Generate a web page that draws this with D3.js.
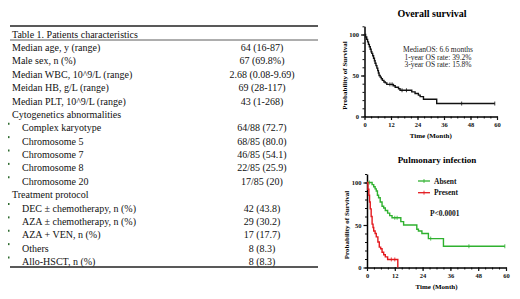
<!DOCTYPE html>
<html>
<head>
<meta charset="utf-8">
<script src="https://cdn.jsdelivr.net/npm/d3@7"></script>
<style>
  body { margin: 0; background: #fff; }
  svg { display: block; font-family: "Liberation Serif", "Times New Roman", serif; }
</style>
</head>
<body>
<svg id="chart" width="520" height="299"></svg>
<script>
// ---- table data ----
const tableTitle = "Table 1. Patients characteristics";

const generalLabels = ["Median age, y (range)", "Male sex, n (%)", "Median WBC, 10^9/L (range)",
  "Meidan HB, g/L (range)", "Median PLT, 10^9/L (range)"];
const generalValues = ["64 (16-87)", "67 (69.8%)", "2.68 (0.08-9.69)", "69 (28-117)", "43 (1-268)"];

const cytoHeader = "Cytogenetics abnormalities";
const cytoLabels = ["Complex karyotype", "Chromosome 5", "Chromosome 7", "Chromosome 8", "Chromosome 20"];
const cytoValues = ["64/88 (72.7)", "68/85 (80.0)", "46/85 (54.1)", "22/85 (25.9)", "17/85 (20)"];

const treatHeader = "Treatment protocol";
const treatLabels = ["DEC \u00b1 chemotherapy, n (%)", "AZA \u00b1 chemotherapy, n (%)", "AZA + VEN, n (%)",
  "Others", "Allo-HSCT, n (%)"];
const treatValues = ["42 (43.8)", "29 (30.2)", "17 (17.7)", "8 (8.3)", "8 (8.3)"];

// ---- survival data (months, % surviving after each step) ----
const osTime = [0, 0.5, 1, 1.4, 1.8, 2.2, 2.6, 3.0, 3.3, 3.7, 4.1, 4.5, 4.8, 5.2, 5.6, 6.0, 6.3, 6.6,
  7.1, 7.6, 8.1, 8.8, 9.4, 10.1, 13.1, 13.9, 15.4, 16.1, 21.4, 22.9, 24.4, 25.2, 26.7, 32.7];
const osSurv = [100, 97, 94, 91, 88, 85, 82, 79, 77, 74, 71, 68, 65, 62, 59, 56, 53, 50,
  48, 46, 44, 42, 41, 39.2, 37.5, 35.7, 33.9, 32, 30, 28, 26.1, 24.2, 21, 15.8];
const osEnd = 59;
const osCensor = [11.5, 12.5, 17, 19, 44, 59];
const osNotes = ["MedianOS: 6.6 months", "1-year OS rate: 39.2%", "3-year OS rate: 15.8%"];

const absentTime = [0, 2.2, 2.9, 3.5, 4.0, 4.5, 5.0, 5.7, 6.5, 7.2, 7.9, 8.9, 9.8, 10.8, 14.6, 15.8,
  21.5, 22.2, 23.7, 26.5, 33];
const absentSurv = [100, 97.5, 95, 92.5, 90, 85, 82, 77, 72, 70, 67, 64, 61, 58.5, 54, 50,
  45, 43, 40, 34, 25];
const absentEnd = 59.5;
const absentCensor = [1, 12, 13, 27.5, 44, 59.5];

const presentTime = [0, 0.4, 0.8, 1.1, 1.4, 1.8, 2.2, 2.6, 2.9, 3.5, 4.0, 4.7, 5.3, 5.9, 6.5, 7.2, 7.9, 8.9, 13.3];
const presentSurv = [100, 92, 85, 77, 69, 60, 51, 47, 43, 40, 36, 30, 24, 22, 18, 15, 12.5, 9.5, 0];
const presentEnd = 13.3;
const presentCensor = [10.5, 12];

const groupNames = ["Absent", "Present"];
const pValueText = "P<0.0001";
const xTicks = [0, 12, 24, 36, 48, 60];
const yTicks = [0, 50, 100];

const svg = d3.select("#chart");
svg.append("rect").attr("width", 520).attr("height", 299).attr("fill", "#fff");

/** TABLE */
const rows = [];
generalLabels.forEach((d, i) => rows.push({ label: d, value: generalValues[i], sub: false }));
rows.push({ label: cytoHeader, value: "", sub: false });
cytoLabels.forEach((d, i) => rows.push({ label: d, value: cytoValues[i], sub: true }));
rows.push({ label: treatHeader, value: "", sub: false });
treatLabels.forEach((d, i) => rows.push({ label: d, value: treatValues[i], sub: true }));

const tableLeft = 10, tableRight = 318, valueX = 262;
const rowY = d3.scaleLinear().domain([0, rows.length - 1]).range([47.5, 261.5]);

const table = svg.append("g").style("font-size", "10px").attr("fill", "#111");

table.append("line").attr("x1", tableLeft).attr("x2", tableRight).attr("y1", 26).attr("y2", 26)
  .attr("stroke", "#222").attr("stroke-width", 1.3);
table.append("line").attr("x1", tableLeft).attr("x2", tableRight).attr("y1", 40).attr("y2", 40)
  .attr("stroke", "#333").attr("stroke-width", 0.8);
table.append("line").attr("x1", tableLeft).attr("x2", tableRight).attr("y1", 267).attr("y2", 267)
  .attr("stroke", "#222").attr("stroke-width", 1.3);

table.append("text").attr("x", 12).attr("y", 34).attr("dy", "0.35em").text(tableTitle);

const rowG = table.selectAll("g.row").data(rows).enter().append("g").attr("class", "row")
  .attr("transform", (d, i) => `translate(0,${rowY(i)})`);

rowG.append("text")
  .attr("x", d => d.sub ? 22 : 12)
  .attr("dy", "0.35em")
  .text(d => d.label);

rowG.append("text")
  .attr("x", valueX)
  .attr("dy", "0.35em")
  .attr("text-anchor", "middle")
  .text(d => d.value);

// small cell markers at the left of indented rows
rowG.filter(d => d.sub).append("rect")
  .attr("x", 8).attr("y", -5).attr("width", 1.5).attr("height", 2)
  .attr("fill", "#2f6b2f");

/** KAPLAN-MEIER PLOTS */
function stepValue(times, surv, t) {
  let v = surv[0];
  for (let i = 0; i < times.length; i++) if (times[i] <= t) v = surv[i];
  return v;
}

function drawPlot(opts) {
  const g = svg.append("g");
  const x = d3.scaleLinear().domain([0, 60]).range([opts.x0, opts.x1]);
  const perUnit = (opts.yBottom - opts.yTop) / 100;
  const y = d3.scaleLinear().domain([0, 110]).range([opts.yBottom, opts.yBottom - 110 * perUnit]);

  g.append("text").attr("x", opts.titleX).attr("y", opts.titleY).attr("text-anchor", "middle")
    .attr("dy", "0.35em").style("font-size", opts.titleSize).style("font-weight", "bold")
    .text(opts.title);

  // minor ticks
  g.append("g").attr("transform", `translate(0,${opts.yBottom})`)
    .call(d3.axisBottom(x).tickValues(d3.range(0, 61, 3)).tickSize(2).tickFormat(""))
    .call(a => a.select(".domain").remove());
  g.append("g").attr("transform", `translate(${opts.x0},0)`)
    .call(d3.axisLeft(y).tickValues(d3.range(0, 111, 10)).tickSize(2).tickFormat(""))
    .call(a => a.select(".domain").remove());

  const xAxis = g.append("g").attr("transform", `translate(0,${opts.yBottom})`)
    .call(d3.axisBottom(x).tickValues(xTicks).tickSize(3.5).tickSizeOuter(0).tickPadding(2));
  const yAxis = g.append("g").attr("transform", `translate(${opts.x0},0)`)
    .call(d3.axisLeft(y).tickValues(yTicks).tickSize(3.5).tickSizeOuter(0).tickPadding(2));
  [xAxis, yAxis].forEach(a => {
    a.select(".domain").attr("stroke-width", 1.5);
    a.selectAll(".tick line").attr("stroke-width", 1.2);
    a.selectAll("text").style("font-family", "Liberation Serif").style("font-size", "6.5px")
      .style("font-weight", "bold").attr("fill", "#111");
  });
  g.selectAll(".tick line").attr("stroke", "#111");

  g.append("text").attr("x", (opts.x0 + opts.x1) / 2).attr("y", opts.yBottom + 19)
    .attr("text-anchor", "middle").attr("dy", "0.35em")
    .style("font-size", "7px").style("font-weight", "bold").text("Time (Month)");
  g.append("text")
    .attr("transform", `translate(${opts.x0 - 20},${(opts.yTop + opts.yBottom) / 2}) rotate(-90)`)
    .attr("text-anchor", "middle").attr("dy", "0.35em")
    .style("font-size", "7px").style("font-weight", "bold").text("Probability of Survival");

  const line = d3.line().x(d => x(d[0])).y(d => y(d[1])).curve(d3.curveStepAfter);
  opts.series.forEach(s => {
    const pts = s.time.map((t, i) => [t, s.surv[i]]);
    pts.push([s.end, s.surv[s.surv.length - 1]]);
    g.append("path").datum(pts).attr("d", line).attr("fill", "none")
      .attr("stroke", s.color).attr("stroke-width", 1.4);
    g.selectAll(null).data(s.censor).enter().append("line")
      .attr("x1", d => x(d)).attr("x2", d => x(d))
      .attr("y1", d => y(stepValue(s.time, s.surv, d)) - 2)
      .attr("y2", d => y(stepValue(s.time, s.surv, d)) + 2)
      .attr("stroke", s.color).attr("stroke-width", 0.8);
  });
  return { g, x, y };
}

const os = drawPlot({
  x0: 364.5, x1: 497, yTop: 34.5, yBottom: 116.5,
  title: "Overall  survival", titleX: 432, titleY: 13, titleSize: "10px",
  series: [{ time: osTime, surv: osSurv, end: osEnd, censor: osCensor, color: "#111" }]
});
os.g.append("g").selectAll("text").data(osNotes).enter().append("text")
  .attr("x", 438).attr("y", (d, i) => 49.5 + i * 7.6).attr("dy", "0.35em")
  .attr("text-anchor", "middle").style("font-size", "7.5px").attr("fill", "#222")
  .text(d => d);

const groupColors = ["#2fb12f", "#e3191e"];
const pi = drawPlot({
  x0: 367, x1: 506, yTop: 182.5, yBottom: 267.5,
  title: "Pulmonary infection", titleX: 437, titleY: 160, titleSize: "9px",
  series: [
    { time: absentTime, surv: absentSurv, end: absentEnd, censor: absentCensor, color: groupColors[0] },
    { time: presentTime, surv: presentSurv, end: presentEnd, censor: presentCensor, color: groupColors[1] }
  ]
});

const legend = pi.g.append("g").selectAll("g").data(groupNames).enter().append("g")
  .attr("transform", (d, i) => `translate(418,${181 + i * 11.7})`);
legend.append("line").attr("x1", 0).attr("x2", 12).attr("stroke", (d, i) => groupColors[i]).attr("stroke-width", 1.3);
legend.append("line").attr("x1", 6).attr("x2", 6).attr("y1", -2).attr("y2", 2)
  .attr("stroke", (d, i) => groupColors[i]).attr("stroke-width", 0.8);
legend.append("text").attr("x", 16).attr("dy", "0.35em")
  .style("font-size", "7.5px").style("font-weight", "bold").attr("fill", "#111").text(d => d);

pi.g.append("text").attr("x", 430).attr("y", 213).attr("dy", "0.35em")
  .style("font-size", "7.5px").style("font-weight", "bold").attr("fill", "#111").text(pValueText);
</script>
</body>
</html>
